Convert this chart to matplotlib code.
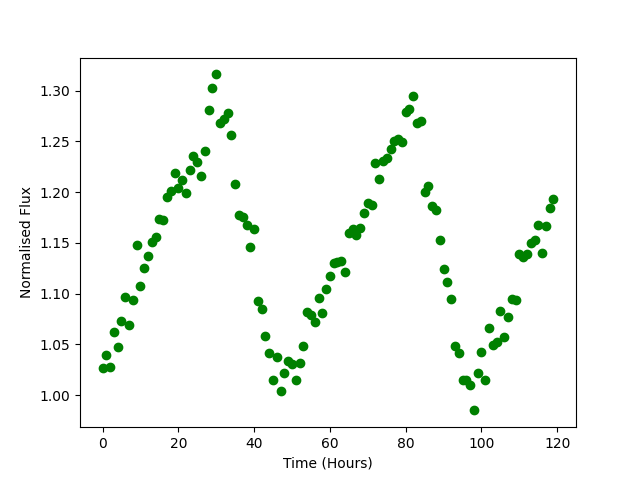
import matplotlib
matplotlib.use("Agg")
import matplotlib.pyplot as plt
import numpy as np

hours = np.arange(120)
flux = [1.027, 1.040, 1.028, 1.062, 1.047, 1.073, 1.097, 1.069, 1.094, 1.148,
        1.108, 1.125, 1.137, 1.151, 1.156, 1.174, 1.173, 1.195, 1.201, 1.219,
        1.204, 1.212, 1.199, 1.222, 1.236, 1.230, 1.216, 1.241, 1.281, 1.303,
        1.316, 1.268, 1.272, 1.278, 1.256, 1.208, 1.177, 1.176, 1.168, 1.146,
        1.164, 1.093, 1.085, 1.058, 1.042, 1.015, 1.038, 1.004, 1.022, 1.034,
        1.031, 1.015, 1.032, 1.048, 1.082, 1.079, 1.072, 1.096, 1.081, 1.105,
        1.117, 1.130, 1.131, 1.132, 1.121, 1.160, 1.164, 1.158, 1.165, 1.179,
        1.189, 1.187, 1.229, 1.213, 1.231, 1.234, 1.243, 1.250, 1.252, 1.249,
        1.279, 1.282, 1.295, 1.268, 1.270, 1.200, 1.206, 1.186, 1.182, 1.153,
        1.124, 1.111, 1.095, 1.048, 1.042, 1.015, 1.015, 1.010, 0.985, 1.022,
        1.043, 1.015, 1.066, 1.049, 1.052, 1.083, 1.057, 1.077, 1.095, 1.094,
        1.139, 1.136, 1.139, 1.150, 1.153, 1.168, 1.140, 1.167, 1.184, 1.193]

fig, ax = plt.subplots(figsize=(6.4, 4.8), dpi=100)
ax.plot(hours, flux, 'o', color='green')
ax.set_xlabel('Time (Hours)')
ax.set_ylabel('Normalised Flux')
fig.savefig('out.png')
